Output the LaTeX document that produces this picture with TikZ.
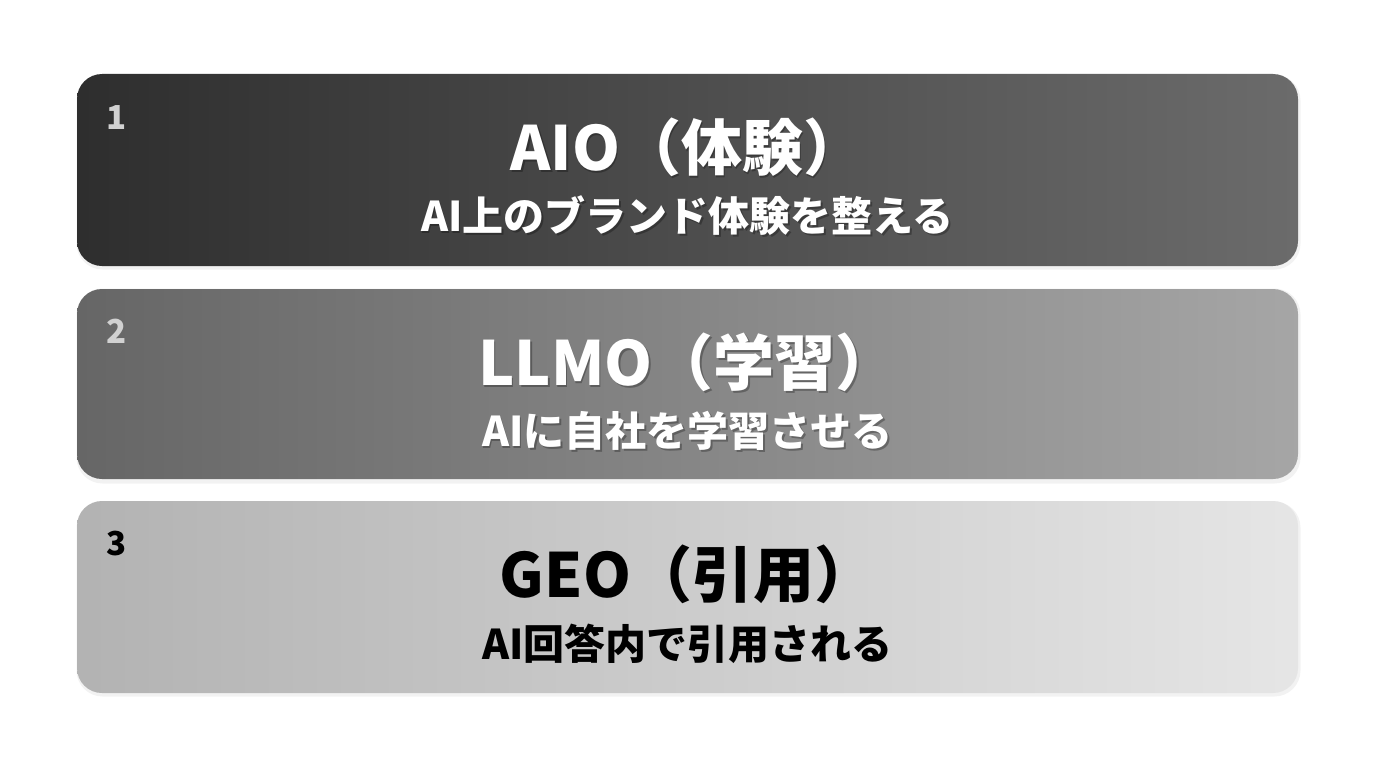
\documentclass[tikz,border=0pt]{standalone}
\usepackage{fontspec}
\setmainfont{Noto Sans CJK JP}
\usetikzlibrary{positioning}
\tikzset{
  card/.style={draw=none, rounded corners=25pt, minimum width=1221pt, minimum height=192pt, inner sep=0pt},
  cardshadow/.style={fill=black, fill opacity=0.05, rounded corners=26pt, minimum width=1224pt, minimum height=195pt, inner sep=0pt},
  titletxt/.style={anchor=base, inner sep=0pt, font=\fontsize{61}{70}\selectfont\bfseries},
  subtxt/.style={anchor=base, inner sep=0pt, font=\fontsize{41}{48}\selectfont\bfseries},
  numtxt/.style={anchor=base west, inner sep=0pt, font=\fontsize{33}{40}\selectfont\bfseries},
  shadowtxt/.style={text=black, text opacity=0.28}
}
\begin{document}
\begin{tikzpicture}[x=1pt,y=-1pt]
\useasboundingbox (0,0) rectangle (1376,768);
\fill[white] (0,0) rectangle (1376,768);
% card shadows
\node[cardshadow] (s1) at (688.5,172) {};
\node[cardshadow] (s2) at (688.5,386) {};
\node[cardshadow] (s3) at (688.5,599) {};
% cards
\node[card, left color=black!82, right color=black!58] (b1) at (687.5,170) {};
\node[card, minimum height=190pt, left color=black!60, right color=black!35] (b2) at (687.5,384) {};
\node[card, left color=black!30, right color=black!10] (b3) at (687.5,597) {};
% numbers
\node[numtxt, text=black!18] (n1) at (106,129) {1};
\node[numtxt, text=black!18] (n2) at (106,343) {2};
\node[numtxt, text=black] (n3) at (106,555) {3};
% box 1 texts
\node[titletxt, shadowtxt] (t1s) at (689,172.5) {AIO（体験）};
\node[titletxt, text=white] (t1) at (687.5,170) {AIO（体験）};
\node[subtxt, shadowtxt] (u1s) at (689,233.5) {AI上のブランド体験を整える};
\node[subtxt, text=white] (u1) at (687.5,231) {AI上のブランド体験を整える};
% box 2 texts
\node[titletxt, shadowtxt] (t2s) at (689,387.5) {LLMO（学習）};
\node[titletxt, text=white] (t2) at (687.5,385) {LLMO（学習）};
\node[subtxt, shadowtxt] (u2s) at (689,448.5) {AIに自社を学習させる};
\node[subtxt, text=white] (u2) at (687.5,446) {AIに自社を学習させる};
% box 3 texts
\node[titletxt, text=black] (t3) at (687.5,597) {GEO（引用）};
\node[subtxt, text=black] (u3) at (687.5,659) {AI回答内で引用される};
\end{tikzpicture}
\end{document}
